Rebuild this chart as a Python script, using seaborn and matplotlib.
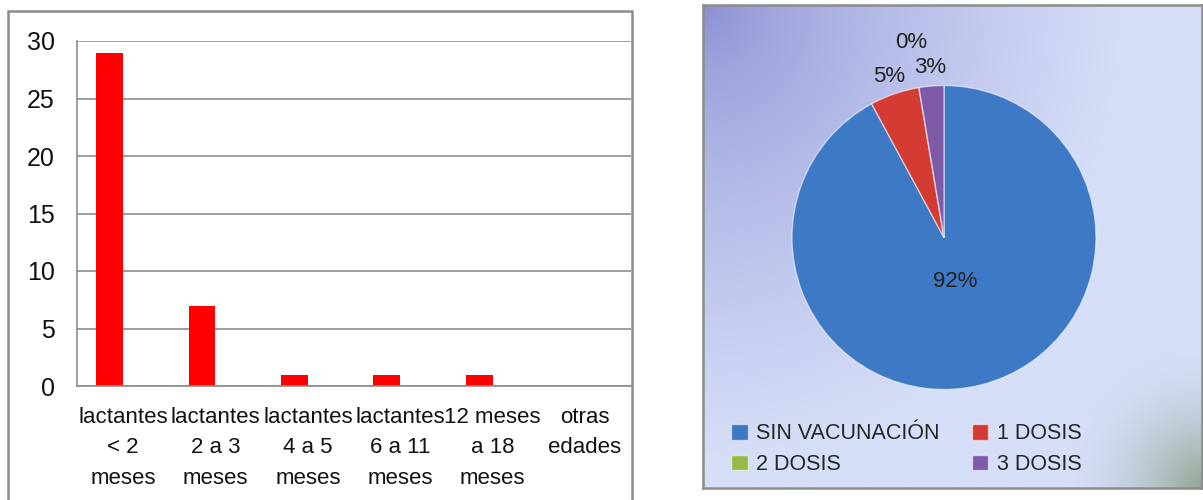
import numpy as np
import pandas as pd
import matplotlib
matplotlib.use("Agg")
import matplotlib.pyplot as plt
import seaborn as sns
from matplotlib.patches import Rectangle

# ------------------------------------------------------------------
# Data
# ------------------------------------------------------------------
edad_labels = [
    "lactantes\n< 2\nmeses",
    "lactantes\n2 a 3\nmeses",
    "lactantes\n4 a 5\nmeses",
    "lactantes\n6 a 11\nmeses",
    "12 meses\na 18\nmeses",
    "otras\nedades",
]
casos = [29, 7, 1, 1, 1, 0]
serie_vacia = [0, 0, 0, 0, 0, 0]   # empty second series of the original sheet

dosis_labels = ["SIN VACUNACIÓN", "1 DOSIS", "2 DOSIS", "3 DOSIS"]
dosis_casos = [35, 2, 0, 1]
dosis_colors = ["#3d79c4", "#d43b33", "#98b94a", "#7e5aa8"]

W, H = 1203, 500
sns.set_style("white")
plt.rcParams["font.family"] = ["Liberation Sans", "DejaVu Sans"]

fig = plt.figure(figsize=(W / 100, H / 100), dpi=100)


def fx(px):
    return px / W


def fy(py):
    return 1 - py / H


# ------------------------------------------------------------------
# Left: bar chart
# ------------------------------------------------------------------
fig.add_artist(Rectangle((fx(8), -0.02), fx(632) - fx(8), fy(11) + 0.02,
                         transform=fig.transFigure, fill=False,
                         edgecolor="#8c8c8c", lw=1.8))

ax = fig.add_axes([fx(77), fy(386), fx(631) - fx(77), fy(41) - fy(386)])
df = pd.DataFrame({
    "edad": edad_labels * 2,
    "casos": casos + serie_vacia,
    "serie": ["Serie1"] * len(casos) + ["Serie2"] * len(serie_vacia),
})
sns.barplot(data=df, x="edad", y="casos", hue="serie",
            palette=["#ff0000", "#ff0000"], saturation=1, width=0.58,
            dodge=True, legend=False, errorbar=None, linewidth=0, ax=ax)

ax.set_ylim(0, 30)
ax.set_xlim(-0.5, len(casos) - 0.5)
ax.set_yticks(range(0, 31, 5))
ax.yaxis.grid(True, color="#8c8c8c", lw=1.2)
ax.set_axisbelow(True)
for s in ["top", "right"]:
    ax.spines[s].set_visible(False)
for s in ["left", "bottom"]:
    ax.spines[s].set_color("#8c8c8c")
    ax.spines[s].set_linewidth(1.2)
ax.set_xlabel("")
ax.set_ylabel("")
ax.set_xticks(np.arange(-0.5, len(casos), 1.0), minor=True)
ax.tick_params(axis="x", which="major", length=0, pad=15, labelsize=16)
ax.tick_params(axis="x", which="minor", length=8, width=1.2, color="#8c8c8c", direction="out")
ax.tick_params(axis="y", length=7, width=1.2, color="#8c8c8c", direction="out",
               pad=9, labelsize=18)
for t in ax.get_xticklabels():
    t.set_linespacing(1.6)
    t.set_color("#111111")
for t in ax.get_yticklabels():
    t.set_color("#111111")

# ------------------------------------------------------------------
# Right: pie chart with gradient panel
# ------------------------------------------------------------------
bg = fig.add_axes([fx(703), fy(488), fx(1202) - fx(703), fy(5) - fy(488)])
u, v = np.meshgrid(np.linspace(0, 1, 300), np.linspace(0, 1, 300))
c_dark = np.array([0x88, 0x8c, 0xd1]) / 255
c_light = np.array([0xd6, 0xde, 0xf8]) / 255
c_green = np.array([0x8a, 0xa0, 0x86]) / 255
t = np.clip(np.sqrt(u ** 2 + (v * 0.9) ** 2) / 0.85, 0, 1) ** 0.65
img = c_dark * (1 - t[..., None]) + c_light * t[..., None]
g = np.clip(1 - np.sqrt(((1 - u) / 0.28) ** 2 + ((1 - v) / 0.3) ** 2), 0, 1) ** 1.8
img = img * (1 - 0.9 * g[..., None]) + c_green * 0.9 * g[..., None]
bg.imshow(img, extent=(0, 1, 0, 1), origin="upper", aspect="auto")
bg.set_xticks([])
bg.set_yticks([])
for s in bg.spines.values():
    s.set_color("#8c8c8c")
    s.set_linewidth(1.8)

R = 152
cx, cy = 944, 237.5
pax = fig.add_axes([fx(cx - R), fy(cy + R), fx(2 * R), fy(0) - fy(2 * R)])
wedges, _ = pax.pie(dosis_casos, colors=dosis_colors, startangle=90,
                    counterclock=False,
                    wedgeprops=dict(edgecolor=(1, 1, 1, 0.55), linewidth=1))
pax.set_xlim(-1, 1)
pax.set_ylim(-1, 1)
pax.set_aspect("equal")

total = sum(dosis_casos)
for w, n in zip(wedges, dosis_casos):
    pct = 100 * n / total
    ang = np.deg2rad((w.theta1 + w.theta2) / 2)
    if pct > 50:
        d = 0.3
    elif n == 0:
        d = 1.30
    else:
        d = 1.12
    pax.text(d * np.cos(ang), d * np.sin(ang), f"{pct:.0f}%",
             ha="center", va="center", fontsize=16, color="#222222")

fig.legend(handles=[wedges[0], wedges[2], wedges[1], wedges[3]],
           labels=[dosis_labels[0], dosis_labels[2], dosis_labels[1], dosis_labels[3]],
           ncol=2, loc="upper left", bbox_to_anchor=(fx(712), fy(404)),
           frameon=False, handlelength=0.75, handleheight=0.75,
           handletextpad=0.4, columnspacing=1.5, labelspacing=0.45,
           prop={"size": 15.5})

fig.savefig("out.png", dpi=100)
